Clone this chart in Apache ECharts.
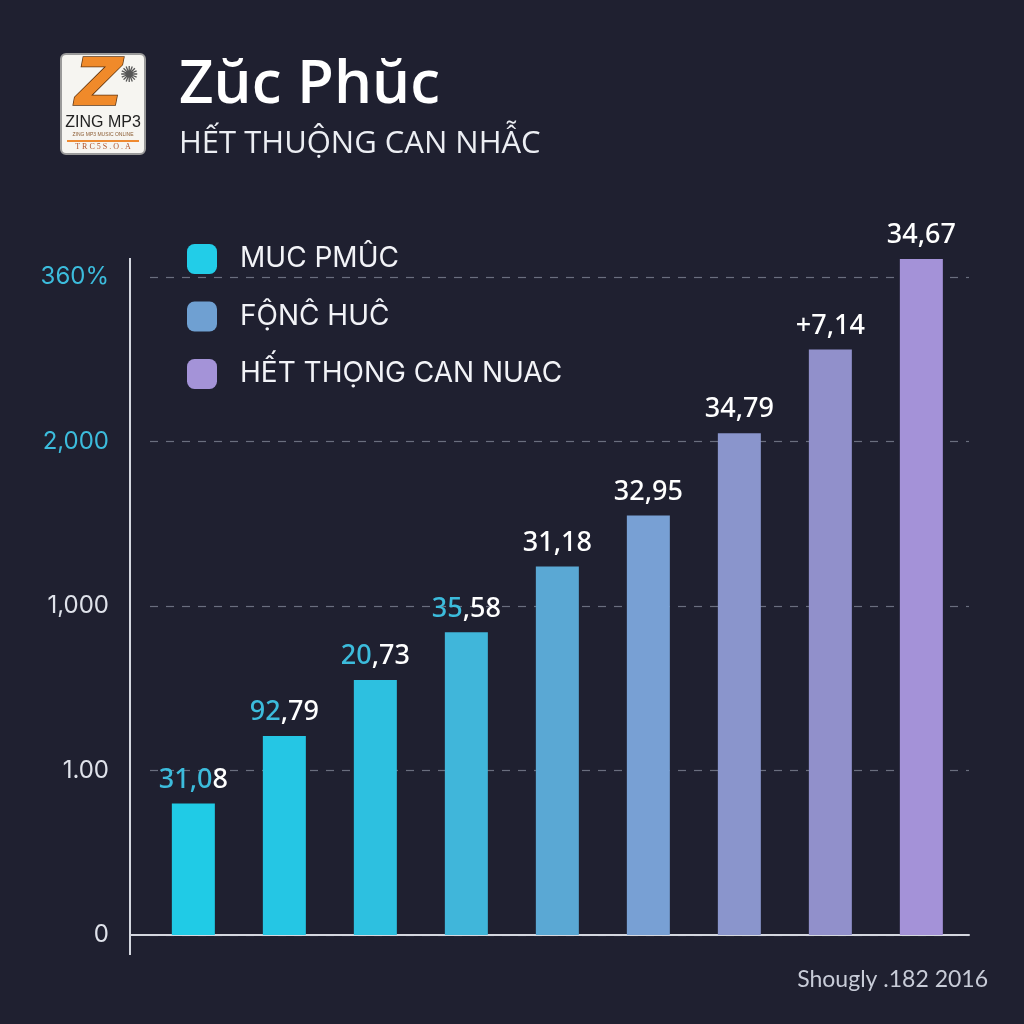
<!DOCTYPE html>
<html>
<head>
<meta charset="utf-8">
<script src="https://cdn.jsdelivr.net/npm/echarts@6/dist/echarts.min.js"></script>
<style>
  html, body { margin: 0; padding: 0; background: #1f2030; }
  #chart { width: 1024px; height: 1024px; }
</style>
</head>
<body>
<div id="chart"></div>
<script>
// ---- data ----
var categories = ['1', '2', '3', '4', '5', '6', '7', '8', '9'];
var barValues = [0.80, 1.21, 1.55, 1.84, 2.24, 2.55, 3.05, 3.56, 4.11];
var barLabels = ['31,08', '92,79', '20,73', '35,58', '31,18', '32,95', '34,79', '+7,14', '34,67'];
var yTickLabels = ['0', '1.00', '1,000', '2,000', '360%'];
var legendNames = ['MUC PMÛC', 'FỘNĈ HUĈ', 'HẾT THỌNG CAN NUAC'];
var titleText = 'Zŭc Phŭc';
var subtitleText = 'HẾT THUỘNG CAN NHẪC';
var footerText = 'Shougly .182 2016';

// ---- styles (kept apart from data) ----
var barColors = ['#20cbe6', '#25c6e4', '#2dc0e0', '#40b6da', '#5aa8d4', '#78a0d4', '#8a95cc', '#9190cb', '#a492d8'];
var legendColors = ['#22cde8', '#6fa0d2', '#a493d8'];
var labelAccentChars = [4, 2, 2, 2, 0, 0, 0, 0, 0];
var yLabelAccent = [false, false, false, true, true];
var accent = '#3cbcdc';
var axisColor = '#d4d7df';

var chart = echarts.init(document.getElementById('chart'));

var option = {
  backgroundColor: '#1f2030',
  animation: false,
  title: {
    text: titleText,
    subtext: subtitleText,
    left: 174,
    top: 46,
    itemGap: 5,
    textStyle: { fontFamily: 'Open Sans', fontWeight: 600, fontSize: 60, color: '#ffffff', lineHeight: 70 },
    subtextStyle: { fontFamily: 'Open Sans', fontWeight: 400, fontSize: 31, color: '#eceef3', lineHeight: 37 }
  },
  legend: {
    orient: 'vertical',
    left: 187,
    top: 244,
    padding: 0,
    itemWidth: 30,
    itemHeight: 30,
    itemGap: 27.5,
    icon: 'roundRect',
    selectedMode: false,
    textStyle: { fontFamily: 'Inter', fontSize: 28, color: '#f2f3f7', padding: [0, 0, 0, 18] },
    data: legendNames.map(function (n, i) {
      return { name: n, itemStyle: { color: legendColors[i], borderWidth: 0 } };
    })
  },
  grid: { left: 150, right: 55, top: 277, bottom: 89, containLabel: false },
  xAxis: {
    type: 'category',
    data: categories,
    axisLine: { show: true, lineStyle: { color: axisColor, width: 2 } },
    axisTick: { show: false },
    axisLabel: { show: false },
    splitLine: { show: false }
  },
  yAxis: {
    type: 'value',
    min: 0,
    max: 4,
    interval: 1,
    offset: 20,
    axisLine: { show: true, lineStyle: { color: axisColor, width: 2 } },
    axisTick: { show: false },
    splitLine: { show: true, lineStyle: { color: '#6a6e7e', width: 1.2, type: [8, 8] } },
    axisLabel: {
      margin: 21,
      formatter: function (v) {
        var i = Math.round(v);
        return (yLabelAccent[i] ? '{c|' : '{w|') + yTickLabels[i] + '}';
      },
      rich: {
        c: { fontFamily: 'Inter', fontSize: 24, color: accent },
        w: { fontFamily: 'Inter', fontSize: 24, color: '#dfe2ea' }
      }
    }
  },
  series: [
    {
      name: legendNames[0],
      type: 'bar',
      clip: false,
      barWidth: 43,
      data: barValues.map(function (v, i) {
        return { value: v, itemStyle: { color: barColors[i] } };
      }),
      label: {
        show: true,
        position: 'top',
        distance: 10,
        formatter: function (p) {
          var s = barLabels[p.dataIndex];
          var k = labelAccentChars[p.dataIndex];
          if (k > 0) return '{c|' + s.slice(0, k) + '}{w|' + s.slice(k) + '}';
          return '{w|' + s + '}';
        },
        rich: {
          c: { fontFamily: 'Noto Sans', fontWeight: 500, fontSize: 27, color: accent },
          w: { fontFamily: 'Noto Sans', fontWeight: 500, fontSize: 27, color: '#ffffff' }
        }
      }
    },
    { name: legendNames[1], type: 'bar', data: [] },
    { name: legendNames[2], type: 'bar', data: [] }
  ],
  graphic: [
    // axis line extensions, as in the reference
    { type: 'line', shape: { x1: 130, y1: 258, x2: 130, y2: 278 }, style: { stroke: axisColor, lineWidth: 2 } },
    { type: 'line', shape: { x1: 130, y1: 934, x2: 130, y2: 955 }, style: { stroke: axisColor, lineWidth: 2 } },
    { type: 'line', shape: { x1: 129, y1: 935, x2: 151, y2: 935 }, style: { stroke: axisColor, lineWidth: 2 } },
    {
      type: 'group', left: 60, top: 53,
      children: [
        { type: 'rect', shape: { x: 0, y: 0, width: 84, height: 100, r: 5 }, style: { fill: '#f6f5f1', stroke: '#9a9a9a', lineWidth: 2 } },
        { type: 'text', x: 38, y: 34, style: { text: 'Z', fontFamily: 'DejaVu Sans', fontWeight: 'bold', fontStyle: 'italic', fontSize: 66, fill: '#f08a2a', stroke: '#5a3210', lineWidth: 1.5, align: 'center', verticalAlign: 'middle' } },
        { type: 'text', x: 68, y: 22, style: { text: '✺', fontSize: 22, fill: '#555555', align: 'center', verticalAlign: 'middle' } },
        { type: 'text', x: 42, y: 69, style: { text: 'ZING MP3', fontFamily: 'Liberation Sans Narrow, Liberation Sans', fontSize: 16, fill: '#222222', align: 'center', verticalAlign: 'middle' } },
        { type: 'text', x: 42, y: 81, style: { text: 'ZING MP3 MUSIC ONLINE', fontFamily: 'Liberation Sans', fontSize: 5, fill: '#8a5a30', align: 'center', verticalAlign: 'middle' } },
        { type: 'rect', shape: { x: 6, y: 86, width: 72, height: 2 }, style: { fill: '#ef8a30' } },
        { type: 'text', x: 42, y: 93, style: { text: 'T R C 5 S . O . A', fontFamily: 'Liberation Serif', fontSize: 8, fill: '#b0542a', align: 'center', verticalAlign: 'middle' } }
      ]
    },
    {
      type: 'text', right: 36, top: 968,
      style: { text: footerText, fontFamily: 'Lato', fontSize: 23, fill: '#c8ccd8' }
    }
  ]
};

chart.setOption(option);
</script>
</body>
</html>
